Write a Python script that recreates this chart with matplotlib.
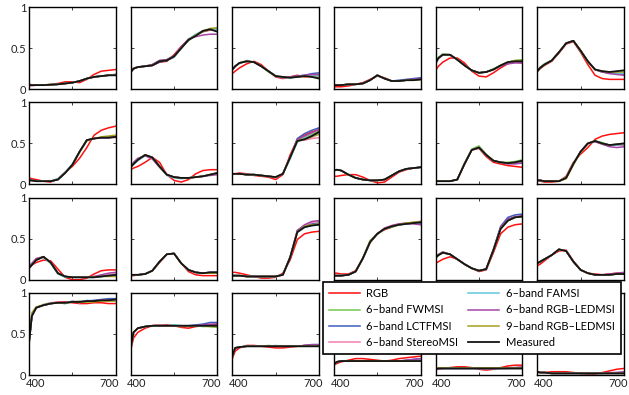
import matplotlib
matplotlib.use("Agg")
import matplotlib.pyplot as plt
from matplotlib.transforms import ScaledTranslation

plt.rcParams['font.family'] = ['Lato', 'DejaVu Sans']

# wavelengths (nm) shared by every patch
wavelengths = [400, 410, 425, 450, 475, 500, 525, 550, 575, 600, 625, 650, 675, 700]

# one row per ColorChecker patch (24)
measured = [
    [.05, .05, .05, .05, .055, .06, .07, .08, .10, .13, .15, .16, .17, .17],
    [.21, .25, .27, .28, .29, .34, .35, .40, .50, .60, .65, .71, .73, .70],
    [.24, .28, .32, .34, .33, .28, .22, .16, .15, .14, .15, .16, .15, .13],
    [.05, .05, .05, .06, .06, .07, .11, .17, .13, .10, .10, .11, .11, .12],
    [.32, .38, .42, .42, .36, .29, .23, .20, .21, .24, .29, .33, .34, .34],
    [.22, .26, .30, .35, .45, .56, .59, .47, .34, .24, .22, .21, .22, .23],
    [.05, .05, .04, .04, .04, .06, .14, .24, .40, .54, .56, .57, .57, .58],
    [.21, .25, .30, .36, .33, .22, .12, .09, .08, .08, .09, .10, .12, .14],
    [.13, .13, .13, .12, .12, .11, .10, .09, .13, .33, .53, .55, .59, .64],
    [.17, .18, .17, .12, .08, .06, .05, .05, .06, .11, .16, .19, .20, .21],
    [.04, .04, .04, .04, .06, .25, .42, .45, .36, .29, .27, .26, .27, .29],
    [.05, .05, .04, .04, .04, .08, .25, .40, .50, .53, .50, .48, .49, .50],
    [.14, .18, .24, .28, .21, .08, .04, .03, .03, .03, .03, .04, .05, .06],
    [.06, .06, .06, .07, .11, .22, .31, .32, .20, .12, .09, .08, .09, .09],
    [.05, .05, .05, .04, .04, .04, .04, .04, .06, .27, .58, .64, .66, .67],
    [.05, .05, .05, .06, .10, .26, .46, .56, .62, .65, .67, .68, .69, .70],
    [.27, .30, .33, .31, .25, .19, .14, .11, .13, .36, .62, .72, .76, .77],
    [.20, .22, .25, .30, .37, .35, .22, .12, .08, .06, .06, .06, .07, .07],
    [.39, .72, .82, .85, .87, .88, .88, .89, .89, .90, .90, .91, .91, .92],
    [.33, .52, .57, .59, .60, .60, .60, .60, .60, .60, .60, .60, .60, .60],
    [.23, .33, .34, .35, .35, .35, .35, .35, .35, .35, .35, .35, .35, .35],
    [.13, .16, .17, .17, .17, .17, .17, .17, .17, .17, .17, .17, .17, .17],
    [.07, .08, .08, .08, .08, .08, .08, .08, .08, .08, .08, .08, .08, .08],
    [.04, .03, .03, .02, .02, .02, .02, .02, .02, .02, .02, .02, .02, .02],
]

rgb = [
    [.06, .055, .05, .05, .06, .07, .09, .09, .08, .12, .18, .22, .23, .24],
    [.21, .25, .27, .28, .29, .33, .34, .42, .52, .60, .66, .70, .72, .73],
    [.19, .22, .26, .31, .34, .30, .22, .15, .13, .15, .17, .15, .16, .17],
    [.03, .03, .03, .04, .06, .08, .12, .16, .14, .10, .10, .11, .11, .12],
    [.23, .28, .33, .38, .38, .32, .22, .16, .15, .20, .26, .31, .33, .32],
    [.21, .25, .29, .34, .44, .55, .58, .45, .30, .17, .13, .12, .12, .12],
    [.08, .07, .06, .04, .03, .07, .15, .22, .32, .45, .60, .66, .69, .71],
    [.18, .20, .22, .27, .33, .27, .12, .05, .03, .06, .13, .17, .18, .18],
    [.12, .13, .14, .13, .11, .10, .09, .06, .12, .36, .55, .60, .64, .67],
    [.10, .10, .11, .12, .12, .09, .05, .02, .03, .09, .15, .18, .20, .21],
    [.04, .04, .04, .04, .06, .25, .42, .44, .34, .27, .25, .23, .22, .21],
    [.05, .04, .03, .03, .04, .10, .27, .37, .45, .55, .59, .61, .62, .63],
    [.16, .18, .21, .24, .23, .13, .03, .00, .00, .02, .07, .11, .12, .12],
    [.05, .05, .06, .07, .11, .21, .31, .32, .20, .10, .06, .05, .05, .05],
    [.09, .09, .08, .06, .04, .02, .02, .03, .08, .24, .49, .56, .58, .59],
    [.08, .08, .07, .07, .11, .26, .45, .56, .61, .64, .67, .68, .69, .70],
    [.20, .22, .25, .28, .25, .19, .14, .10, .12, .33, .56, .64, .67, .68],
    [.17, .19, .23, .30, .35, .36, .23, .12, .08, .07, .06, .07, .08, .08],
    [.40, .72, .82, .85, .87, .89, .89, .88, .87, .87, .88, .88, .87, .87],
    [.30, .45, .52, .57, .60, .61, .61, .60, .58, .57, .59, .60, .61, .62],
    [.20, .29, .33, .36, .36, .35, .34, .33, .33, .34, .35, .36, .36, .36],
    [.12, .14, .16, .18, .20, .20, .19, .18, .17, .18, .20, .21, .22, .23],
    [.07, .07, .08, .09, .10, .10, .09, .07, .06, .07, .09, .11, .12, .12],
    [.03, .03, .03, .04, .04, .04, .03, .02, .01, .01, .03, .05, .07, .08],
]

fwmsi = [
    [.05, .05, .05, .05, .06, .06, .07, .08, .10, .13, .15, .16, .17, .18],
    [.21, .26, .27, .28, .30, .34, .36, .40, .50, .59, .66, .70, .73, .74],
    [.23, .28, .32, .35, .33, .28, .21, .16, .14, .15, .15, .16, .17, .16],
    [.05, .05, .05, .06, .06, .07, .11, .17, .13, .10, .10, .11, .12, .12],
    [.31, .39, .43, .42, .36, .29, .23, .20, .21, .25, .29, .33, .35, .36],
    [.22, .27, .31, .35, .45, .56, .59, .46, .33, .24, .21, .20, .20, .19],
    [.05, .05, .04, .04, .04, .07, .14, .24, .39, .53, .56, .57, .58, .59],
    [.21, .26, .31, .36, .32, .21, .12, .09, .08, .08, .09, .10, .12, .14],
    [.13, .13, .13, .12, .12, .11, .10, .09, .13, .33, .54, .57, .61, .65],
    [.17, .18, .17, .12, .08, .06, .05, .05, .06, .11, .16, .19, .20, .21],
    [.04, .04, .04, .04, .06, .26, .43, .47, .37, .29, .27, .27, .28, .30],
    [.05, .05, .04, .04, .04, .09, .26, .40, .50, .53, .51, .48, .49, .49],
    [.15, .19, .25, .28, .20, .07, .04, .03, .03, .03, .03, .04, .05, .06],
    [.06, .06, .06, .07, .11, .22, .31, .32, .20, .12, .09, .08, .08, .08],
    [.05, .05, .05, .04, .04, .04, .04, .04, .06, .27, .58, .64, .67, .69],
    [.05, .05, .05, .06, .10, .27, .48, .55, .62, .64, .67, .68, .70, .70],
    [.26, .30, .33, .31, .25, .19, .14, .11, .13, .36, .62, .72, .76, .77],
    [.19, .22, .25, .30, .37, .35, .22, .12, .08, .06, .06, .06, .07, .07],
    [.40, .73, .82, .86, .88, .88, .87, .89, .90, .89, .90, .91, .92, .91],
    [.33, .52, .57, .59, .60, .61, .60, .60, .59, .60, .60, .59, .59, .58],
    [.23, .33, .34, .35, .35, .35, .36, .35, .35, .35, .35, .35, .35, .35],
    [.13, .16, .17, .17, .17, .17, .17, .17, .17, .17, .17, .17, .17, .18],
    [.07, .08, .08, .08, .08, .08, .08, .08, .08, .08, .08, .08, .08, .08],
    [.04, .03, .03, .02, .02, .02, .02, .02, .02, .02, .02, .02, .02, .02],
]

lctfmsi = [
    [.05, .05, .05, .05, .05, .06, .07, .08, .10, .13, .15, .16, .17, .18],
    [.21, .25, .27, .28, .29, .33, .35, .39, .50, .60, .66, .71, .73, .73],
    [.24, .28, .32, .34, .33, .28, .22, .16, .14, .15, .16, .17, .19, .20],
    [.05, .05, .05, .06, .06, .07, .11, .17, .13, .10, .11, .12, .13, .14],
    [.32, .38, .42, .42, .36, .29, .23, .20, .21, .24, .29, .33, .34, .34],
    [.22, .26, .30, .35, .45, .56, .59, .47, .34, .24, .21, .20, .19, .18],
    [.05, .05, .04, .04, .04, .06, .14, .24, .40, .54, .56, .57, .57, .58],
    [.21, .25, .30, .36, .33, .22, .12, .09, .08, .08, .09, .10, .12, .14],
    [.13, .13, .13, .12, .12, .11, .10, .09, .13, .32, .56, .62, .66, .69],
    [.17, .18, .17, .12, .08, .06, .05, .05, .06, .11, .16, .19, .20, .21],
    [.04, .04, .04, .04, .06, .25, .42, .45, .36, .29, .27, .26, .26, .27],
    [.05, .05, .04, .04, .04, .08, .25, .40, .50, .53, .50, .48, .48, .48],
    [.14, .18, .24, .28, .21, .08, .04, .03, .03, .03, .03, .04, .05, .06],
    [.06, .06, .06, .07, .11, .22, .31, .32, .20, .12, .09, .08, .09, .09],
    [.05, .05, .05, .04, .04, .04, .04, .04, .06, .27, .60, .66, .68, .69],
    [.05, .05, .05, .06, .10, .26, .46, .56, .62, .65, .67, .68, .69, .69],
    [.27, .30, .33, .31, .25, .19, .14, .11, .13, .37, .65, .76, .79, .80],
    [.20, .22, .25, .30, .37, .35, .22, .12, .08, .06, .06, .06, .07, .08],
    [.39, .72, .82, .85, .87, .88, .88, .89, .89, .90, .91, .92, .93, .93],
    [.33, .52, .57, .59, .60, .60, .60, .60, .60, .60, .61, .62, .64, .64],
    [.23, .33, .34, .35, .35, .35, .35, .35, .35, .35, .35, .36, .37, .37],
    [.13, .16, .17, .17, .17, .17, .17, .17, .17, .17, .17, .18, .19, .20],
    [.07, .08, .08, .08, .08, .08, .08, .08, .08, .08, .08, .08, .09, .09],
    [.04, .03, .03, .02, .02, .02, .02, .02, .02, .02, .02, .02, .03, .03],
]

stereomsi = [
    [.04, .04, .05, .05, .05, .06, .07, .08, .10, .13, .15, .16, .17, .18],
    [.21, .26, .27, .28, .30, .35, .36, .40, .51, .61, .66, .71, .73, .72],
    [.23, .28, .32, .34, .33, .28, .22, .16, .14, .15, .15, .16, .16, .16],
    [.05, .05, .05, .06, .06, .07, .11, .17, .13, .10, .10, .11, .11, .12],
    [.31, .37, .42, .42, .36, .29, .23, .20, .21, .24, .29, .32, .33, .33],
    [.22, .26, .30, .35, .45, .56, .59, .47, .34, .24, .21, .20, .19, .19],
    [.05, .05, .04, .04, .04, .06, .14, .24, .40, .54, .56, .57, .57, .57],
    [.21, .25, .30, .36, .33, .22, .12, .09, .08, .08, .09, .10, .12, .14],
    [.13, .13, .13, .12, .12, .11, .10, .08, .13, .33, .53, .54, .56, .57],
    [.17, .18, .17, .12, .08, .06, .05, .05, .06, .11, .16, .19, .20, .21],
    [.04, .04, .04, .04, .06, .25, .42, .45, .36, .29, .27, .26, .27, .28],
    [.05, .05, .04, .04, .04, .08, .25, .40, .50, .53, .50, .48, .48, .48],
    [.14, .18, .24, .28, .21, .08, .04, .03, .03, .03, .04, .05, .06, .07],
    [.06, .06, .06, .07, .11, .22, .31, .32, .20, .12, .09, .08, .09, .09],
    [.05, .05, .05, .04, .04, .04, .04, .04, .06, .27, .59, .66, .70, .71],
    [.05, .05, .05, .06, .10, .26, .46, .56, .62, .66, .68, .69, .70, .71],
    [.27, .30, .33, .31, .25, .19, .14, .11, .13, .36, .62, .72, .76, .77],
    [.20, .22, .25, .30, .37, .35, .22, .12, .08, .06, .06, .06, .07, .07],
    [.39, .72, .82, .85, .88, .89, .88, .90, .89, .90, .90, .91, .91, .91],
    [.33, .52, .57, .59, .60, .61, .60, .60, .60, .60, .60, .60, .60, .60],
    [.23, .33, .34, .35, .35, .35, .35, .35, .35, .35, .35, .35, .35, .35],
    [.13, .16, .17, .17, .17, .17, .17, .17, .17, .17, .17, .17, .17, .17],
    [.07, .08, .08, .08, .08, .08, .08, .08, .08, .08, .08, .08, .08, .08],
    [.04, .03, .03, .02, .02, .02, .02, .02, .02, .02, .02, .02, .02, .02],
]

famsi = [
    [.05, .05, .05, .05, .055, .06, .07, .08, .10, .13, .15, .16, .17, .17],
    [.21, .25, .27, .28, .30, .35, .36, .39, .50, .61, .67, .71, .73, .73],
    [.24, .28, .32, .34, .33, .28, .22, .16, .15, .14, .15, .16, .16, .16],
    [.05, .05, .05, .06, .06, .07, .11, .17, .13, .10, .10, .11, .11, .12],
    [.32, .38, .42, .42, .36, .29, .23, .20, .21, .24, .29, .33, .34, .34],
    [.22, .26, .30, .35, .45, .56, .59, .47, .34, .24, .21, .20, .19, .19],
    [.05, .05, .04, .04, .04, .07, .15, .25, .40, .54, .56, .57, .57, .58],
    [.21, .24, .29, .35, .33, .22, .11, .08, .07, .08, .09, .10, .12, .14],
    [.13, .13, .13, .12, .12, .11, .10, .09, .13, .31, .52, .56, .60, .62],
    [.17, .18, .17, .12, .08, .06, .05, .05, .06, .11, .16, .19, .20, .21],
    [.04, .04, .04, .04, .06, .25, .42, .45, .36, .29, .27, .26, .27, .29],
    [.05, .05, .04, .04, .04, .08, .25, .40, .50, .53, .50, .48, .48, .49],
    [.17, .20, .25, .27, .20, .07, .03, .03, .03, .03, .03, .04, .05, .06],
    [.06, .06, .06, .07, .11, .22, .31, .32, .20, .12, .09, .08, .09, .09],
    [.05, .05, .05, .04, .04, .04, .04, .04, .06, .28, .59, .64, .66, .67],
    [.05, .05, .05, .06, .10, .26, .46, .56, .62, .65, .67, .68, .69, .70],
    [.27, .30, .33, .31, .25, .19, .14, .11, .13, .36, .62, .72, .76, .77],
    [.20, .22, .25, .30, .37, .35, .22, .12, .08, .06, .06, .06, .07, .07],
    [.39, .72, .82, .85, .87, .88, .87, .90, .88, .91, .90, .91, .91, .92],
    [.33, .52, .57, .59, .60, .60, .60, .61, .60, .60, .60, .60, .60, .60],
    [.23, .33, .34, .35, .35, .35, .35, .36, .35, .35, .35, .35, .35, .35],
    [.13, .16, .17, .17, .17, .17, .17, .17, .17, .17, .17, .17, .17, .17],
    [.07, .08, .08, .08, .08, .08, .08, .08, .08, .08, .08, .08, .08, .08],
    [.04, .03, .03, .02, .02, .02, .02, .02, .02, .02, .02, .02, .02, .02],
]

ledmsi6 = [
    [.05, .05, .05, .05, .055, .06, .07, .08, .10, .13, .15, .16, .17, .17],
    [.20, .25, .27, .28, .30, .35, .36, .41, .52, .61, .64, .66, .67, .67],
    [.24, .28, .32, .34, .33, .28, .22, .16, .14, .15, .16, .17, .18, .18],
    [.05, .05, .05, .06, .06, .07, .11, .17, .13, .10, .10, .11, .12, .13],
    [.32, .38, .42, .42, .36, .29, .23, .20, .21, .24, .28, .31, .32, .32],
    [.22, .26, .30, .35, .45, .56, .59, .47, .34, .24, .21, .19, .18, .17],
    [.05, .05, .04, .04, .04, .06, .14, .24, .40, .54, .56, .57, .57, .58],
    [.22, .27, .32, .35, .31, .21, .12, .09, .08, .08, .09, .10, .11, .12],
    [.13, .13, .13, .12, .12, .11, .10, .09, .13, .33, .55, .59, .63, .67],
    [.17, .18, .17, .12, .08, .06, .05, .05, .06, .11, .16, .19, .20, .21],
    [.04, .04, .04, .04, .06, .25, .42, .45, .36, .29, .27, .25, .25, .26],
    [.05, .05, .04, .04, .04, .08, .25, .40, .50, .52, .49, .46, .45, .46],
    [.16, .20, .26, .28, .21, .08, .04, .03, .03, .03, .04, .06, .08, .09],
    [.06, .06, .06, .07, .11, .22, .31, .32, .20, .12, .09, .08, .09, .09],
    [.05, .05, .05, .04, .04, .04, .04, .04, .06, .28, .60, .67, .71, .72],
    [.05, .05, .05, .06, .10, .26, .46, .56, .63, .66, .68, .69, .68, .67],
    [.28, .31, .34, .31, .25, .19, .14, .11, .13, .37, .64, .74, .77, .78],
    [.20, .22, .25, .30, .37, .35, .22, .12, .08, .06, .06, .07, .08, .09],
    [.39, .72, .82, .85, .87, .88, .88, .89, .89, .90, .90, .91, .91, .92],
    [.33, .52, .57, .59, .60, .60, .60, .60, .60, .60, .60, .61, .62, .62],
    [.23, .33, .34, .35, .35, .35, .35, .35, .35, .35, .35, .36, .37, .37],
    [.13, .16, .17, .17, .17, .17, .17, .17, .17, .17, .17, .18, .19, .20],
    [.07, .08, .08, .08, .08, .08, .08, .08, .08, .08, .08, .09, .09, .10],
    [.04, .03, .03, .02, .02, .02, .02, .02, .02, .02, .02, .03, .03, .04],
]

ledmsi9 = [
    [.05, .05, .05, .05, .055, .06, .07, .08, .10, .13, .15, .16, .17, .17],
    [.21, .25, .27, .28, .29, .34, .35, .40, .50, .60, .66, .71, .74, .75],
    [.24, .28, .32, .34, .33, .28, .22, .16, .15, .14, .15, .16, .15, .14],
    [.05, .05, .05, .06, .06, .07, .11, .17, .13, .10, .10, .11, .11, .12],
    [.32, .38, .42, .42, .36, .29, .23, .20, .21, .24, .29, .33, .35, .35],
    [.21, .26, .30, .35, .45, .56, .59, .47, .34, .24, .22, .21, .21, .21],
    [.05, .05, .04, .04, .04, .06, .14, .24, .40, .54, .56, .58, .59, .60],
    [.21, .25, .30, .36, .33, .22, .12, .09, .08, .08, .09, .10, .12, .14],
    [.13, .13, .13, .12, .12, .11, .10, .09, .13, .33, .53, .55, .58, .61],
    [.17, .18, .17, .12, .08, .06, .05, .05, .06, .11, .16, .19, .20, .21],
    [.04, .04, .04, .04, .06, .25, .42, .45, .36, .29, .27, .26, .27, .29],
    [.05, .05, .04, .04, .04, .07, .24, .39, .50, .53, .50, .48, .49, .50],
    [.14, .18, .24, .28, .21, .08, .04, .03, .03, .03, .03, .04, .04, .04],
    [.06, .06, .06, .07, .11, .22, .31, .32, .20, .12, .09, .08, .08, .08],
    [.05, .05, .05, .04, .04, .04, .04, .04, .06, .27, .58, .65, .67, .68],
    [.05, .05, .05, .06, .10, .26, .46, .56, .62, .65, .67, .69, .70, .71],
    [.27, .30, .33, .31, .25, .19, .14, .11, .13, .36, .62, .72, .76, .77],
    [.20, .22, .25, .30, .37, .35, .22, .12, .08, .06, .06, .06, .07, .07],
    [.36, .76, .83, .85, .87, .88, .88, .89, .89, .89, .89, .90, .90, .90],
    [.33, .52, .57, .59, .60, .60, .60, .60, .60, .60, .60, .60, .59, .59],
    [.22, .33, .34, .35, .35, .35, .35, .35, .35, .35, .35, .35, .35, .35],
    [.13, .16, .17, .17, .17, .17, .17, .17, .17, .17, .17, .17, .17, .17],
    [.08, .08, .08, .08, .08, .08, .08, .08, .08, .08, .08, .08, .08, .08],
    [.04, .03, .03, .02, .02, .02, .02, .02, .02, .02, .02, .02, .02, .02],
]

series_labels = ['RGB', '6–band FWMSI', '6–band LCTFMSI', '6–band StereoMSI',
                 '6–band FAMSI', '6–band RGB–LEDMSI', '9–band RGB–LEDMSI', 'Measured']
series_data = [rgb, fwmsi, lctfmsi, stereomsi, famsi, ledmsi6, ledmsi9, measured]
series_colors = ['#ff1010', '#72c84e', '#3f5cbf', '#f47fb0',
                 '#62c6dc', '#a545a5', '#a5a21e', '#141414']

fig, axes = plt.subplots(4, 6, figsize=(6.29, 3.95), dpi=100)
fig.subplots_adjust(left=0.0461, right=0.992, top=0.982, bottom=0.0506,
                    wspace=0.172, hspace=0.16)

# MATLAB-like nudging of the bottom tick labels so 700 and 400 don't collide
shift_400 = ScaledTranslation(4.5 / 72, 0, fig.dpi_scale_trans)
shift_700 = ScaledTranslation(-4.5 / 72, 0, fig.dpi_scale_trans)

for i, ax in enumerate(axes.flat):
    for data, col, lab in zip(series_data, series_colors, series_labels):
        lw = 1.3 if lab == 'Measured' else 1.1
        ax.plot(wavelengths, data[i], color=col, lw=lw, label=lab)
    ax.set_xlim(400, 700)
    ax.set_ylim(0, 1)
    ax.set_xticks([400, 550, 700])
    ax.set_yticks([0, 0.5, 1])
    ax.tick_params(direction='in', length=2.5, width=0.6, top=True, right=True,
                   labelsize=8, pad=2, colors='#222222')
    for sp in ax.spines.values():
        sp.set_linewidth(1.0)
    row, colidx = divmod(i, 6)
    if row == 3:
        ax.set_xticklabels(['400', '', '700'])
        labs = ax.get_xticklabels()
        labs[0].set_transform(labs[0].get_transform() + shift_400)
        labs[2].set_transform(labs[2].get_transform() + shift_700)
    else:
        ax.set_xticklabels([])
    if colidx == 0:
        ax.set_yticklabels(['0', '0.5', '1'])
    else:
        ax.set_yticklabels([])

handles, labels = axes[0, 0].get_legend_handles_labels()
leg = fig.legend(handles, labels, loc='upper left', bbox_to_anchor=(0.5135, 0.2861),
                 ncol=2, fontsize=8, frameon=True, fancybox=False,
                 handlelength=2.8, columnspacing=0.9, labelspacing=0.48,
                 borderaxespad=0, borderpad=0.55, handletextpad=0.55)
leg.get_frame().set_edgecolor('black')
leg.get_frame().set_linewidth(1.2)
leg.get_frame().set_alpha(1)

fig.savefig('out.png', dpi=100)
